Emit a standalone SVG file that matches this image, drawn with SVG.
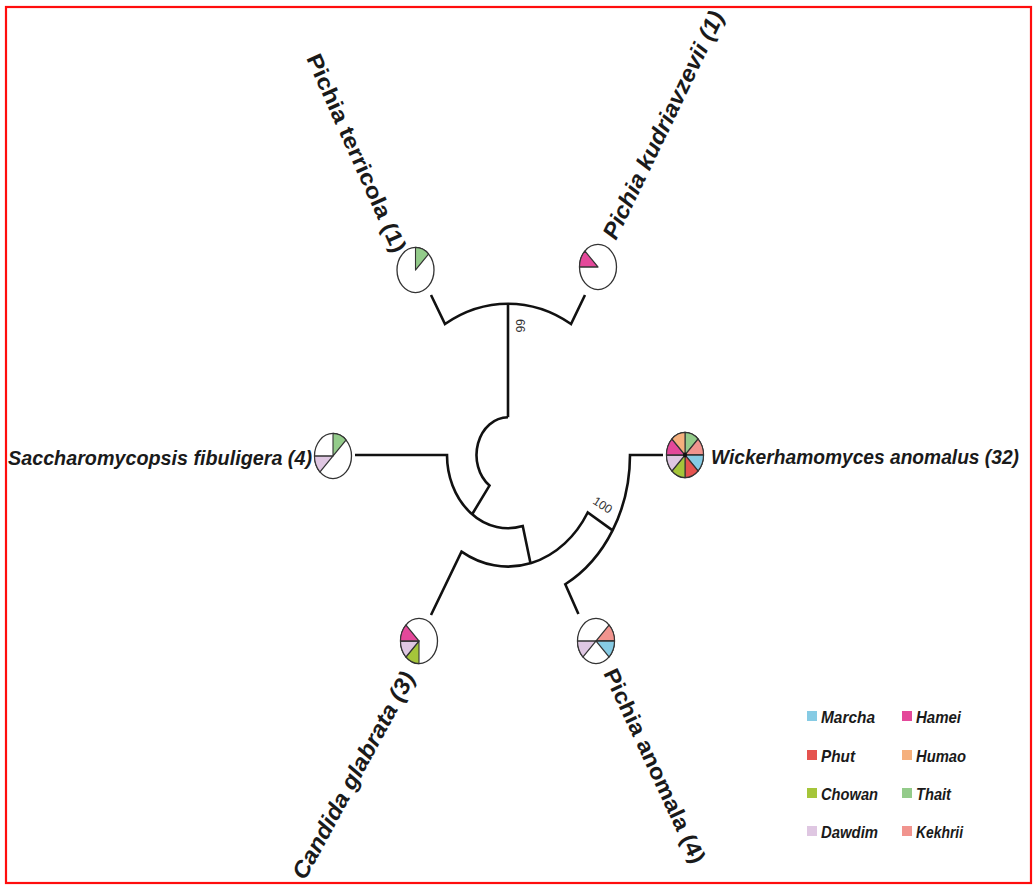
<svg xmlns="http://www.w3.org/2000/svg" width="1036" height="885" viewBox="0 0 1036 885">
<style>
.br{fill:none;stroke:#111;stroke-width:2.6;stroke-linecap:butt;stroke-linejoin:miter;vector-effect:non-scaling-stroke}
.pie{fill:#fff;stroke:#333;stroke-width:1.3;vector-effect:non-scaling-stroke}
.sl{stroke:#333;stroke-width:1.1;stroke-linejoin:round;vector-effect:non-scaling-stroke}
.lab{font-family:"Liberation Sans",Arial,sans-serif;font-weight:bold;font-style:italic;fill:#1a1a1a}
.labu{font-family:"Liberation Sans",Arial,sans-serif;font-weight:bold;fill:#1a1a1a}
.bs{font-family:"Liberation Sans",Arial,sans-serif;font-size:12px;fill:#333}
.lg{font-family:"Liberation Sans",Arial,sans-serif;font-weight:bold;font-style:italic;font-size:17px;fill:#1a1a1a}
.marcha{fill:#86cbe4}.hamei{fill:#e4489a}.phut{fill:#e5534f}.humao{fill:#f5b07d}
.chowan{fill:#a5c53a}.thait{fill:#93cb8a}.dawdim{fill:#dfc7e2}.kekhrii{fill:#f1948e}
</style>
<defs>
<path id="s1" d="M0,0 L0,-18.5 A18.5,18.5 0 0 1 13.08,-13.08 Z"/>
<path id="s2" d="M0,0 L13.08,-13.08 A18.5,18.5 0 0 1 18.5,0 Z"/>
<path id="s3" d="M0,0 L18.5,0 A18.5,18.5 0 0 1 13.08,13.08 Z"/>
<path id="s4" d="M0,0 L13.08,13.08 A18.5,18.5 0 0 1 0,18.5 Z"/>
<path id="s5" d="M0,0 L0,18.5 A18.5,18.5 0 0 1 -13.08,13.08 Z"/>
<path id="s6" d="M0,0 L-13.08,13.08 A18.5,18.5 0 0 1 -18.5,0 Z"/>
<path id="s7" d="M0,0 L-18.5,0 A18.5,18.5 0 0 1 -13.08,-13.08 Z"/>
<path id="s8" d="M0,0 L-13.08,-13.08 A18.5,18.5 0 0 1 0,-18.5 Z"/>
</defs>
<rect x="0" y="0" width="1036" height="885" fill="#fff"/>
<rect x="6" y="7" width="1025" height="876" fill="none" stroke="#ff0d0d" stroke-width="2.2"/>

<g id="connectors" transform="translate(508,455) scale(1,1.2)">
<path class="br" d="M0,-31.5 L0,-126"/>
<path class="br" d="M-77,-133.37 L-63,-109.12 A126,126 0 0 1 63,-109.12 L77,-133.37"/>
<path class="br" d="M0,-31.5 A31.5,31.5 0 0 0 -18.52,25.48 L-35.85,49.35"/>
<path class="br" d="M-153,0 L-61,0 A61,61 0 0 0 14.76,59.19 L22.5,90.24"/>
<path class="br" d="M-77,133.37 L-46.5,80.54 A93,93 0 0 0 79.72,47.9 L104.57,62.84"/>
<path class="br" d="M155,0 L122,0 A122,122 0 0 1 57.28,107.72 L70.42,132.44"/>
</g>

<g id="bootstrap">
<text class="bs" transform="translate(516,319) rotate(90)">66</text>
<text class="bs" transform="translate(592,503) rotate(33)">100</text>
</g>

<g id="node-pichia-terricola">
<g transform="translate(415.5,270) scale(1,1.22)">
<circle class="pie" r="18.5"/>
<use href="#s1" class="sl thait"/>
</g>
<text class="labu" font-size="22" textLength="215" lengthAdjust="spacingAndGlyphs" transform="translate(306,58) rotate(66)">Pichia terricola (1)</text>
</g>

<g id="node-pichia-kudriavzevii">
<g transform="translate(598,267) scale(1,1.22)">
<circle class="pie" r="18.5"/>
<use href="#s7" class="sl hamei"/>
</g>
<text class="lab" font-size="23" textLength="250" lengthAdjust="spacingAndGlyphs" transform="translate(616,241) rotate(-64.3)">Pichia kudriavzevii (1)</text>
</g>

<g id="node-saccharomycopsis">
<g transform="translate(333,456) scale(1,1.22)">
<circle class="pie" r="18.5"/>
<use href="#s1" class="sl thait"/>
<use href="#s6" class="sl dawdim"/>
</g>
<text class="lab" x="8" y="465" font-size="21" textLength="304" lengthAdjust="spacingAndGlyphs">Saccharomycopsis fibuligera (4)</text>
</g>

<g id="node-wickerhamomyces">
<g transform="translate(685,455) scale(1,1.22)">
<circle class="pie" r="18.5"/>
<use href="#s1" class="sl thait"/>
<use href="#s2" class="sl kekhrii"/>
<use href="#s3" class="sl marcha"/>
<use href="#s4" class="sl phut"/>
<use href="#s5" class="sl chowan"/>
<use href="#s6" class="sl dawdim"/>
<use href="#s7" class="sl hamei"/>
<use href="#s8" class="sl humao"/>
<circle r="2" fill="#111"/>
</g>
<text class="lab" x="711" y="464" font-size="20" textLength="308" lengthAdjust="spacingAndGlyphs">Wickerhamomyces anomalus (32)</text>
</g>

<g id="node-candida-glabrata">
<g transform="translate(419,641) scale(1,1.22)">
<circle class="pie" r="18.5"/>
<use href="#s5" class="sl chowan"/>
<use href="#s6" class="sl dawdim"/>
<use href="#s7" class="sl hamei"/>
</g>
<text class="lab" font-size="23" textLength="232" lengthAdjust="spacingAndGlyphs" transform="translate(305,881) rotate(-61.5)">Candida glabrata (3)</text>
</g>

<g id="node-pichia-anomala">
<g transform="translate(596,641) scale(1,1.22)">
<circle class="pie" r="18.5"/>
<use href="#s2" class="sl kekhrii"/>
<use href="#s3" class="sl marcha"/>
<use href="#s6" class="sl dawdim"/>
</g>
<text class="labu" font-size="22" textLength="212" lengthAdjust="spacingAndGlyphs" transform="translate(603,673) rotate(65)">Pichia anomala (4)</text>
</g>

<g id="legend">
<rect class="marcha" x="807" y="711" width="10" height="10"/><text class="lg" x="821" y="723" textLength="54" lengthAdjust="spacingAndGlyphs">Marcha</text>
<rect class="phut" x="807" y="750" width="10" height="10"/><text class="lg" x="821" y="762" textLength="34" lengthAdjust="spacingAndGlyphs">Phut</text>
<rect class="chowan" x="807" y="788" width="10" height="10"/><text class="lg" x="821" y="800" textLength="57" lengthAdjust="spacingAndGlyphs">Chowan</text>
<rect class="dawdim" x="807" y="826" width="10" height="10"/><text class="lg" x="821" y="838" textLength="57" lengthAdjust="spacingAndGlyphs">Dawdim</text>
<rect class="hamei" x="902" y="711" width="10" height="10"/><text class="lg" x="916" y="723" textLength="45" lengthAdjust="spacingAndGlyphs">Hamei</text>
<rect class="humao" x="902" y="750" width="10" height="10"/><text class="lg" x="916" y="762" textLength="50" lengthAdjust="spacingAndGlyphs">Humao</text>
<rect class="thait" x="902" y="788" width="10" height="10"/><text class="lg" x="916" y="800" textLength="35" lengthAdjust="spacingAndGlyphs">Thait</text>
<rect class="kekhrii" x="902" y="826" width="10" height="10"/><text class="lg" x="916" y="838" textLength="47" lengthAdjust="spacingAndGlyphs">Kekhrii</text>
</g>
</svg>
